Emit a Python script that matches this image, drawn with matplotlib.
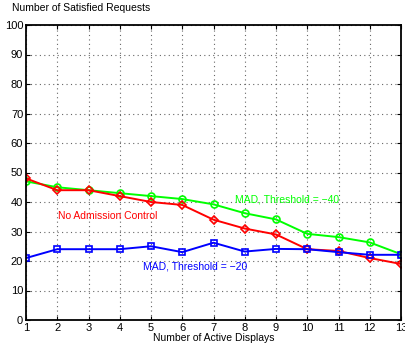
import matplotlib.pyplot as plt

plt.rcParams['font.family'] = ['Liberation Sans', 'DejaVu Sans']

displays = list(range(1, 14))
no_admission = [48, 44, 44, 42, 40, 39, 34, 31, 29, 24, 23.4, 21, 19]
mad_40 = [47, 45, 44, 43, 42, 41, 39.2, 36.2, 34.1, 29.2, 28.1, 26.3, 22.3]
mad_20 = [21, 24, 24, 24, 25, 23, 26.2, 23.2, 24.1, 24, 23, 22.1, 22.1]

fig = plt.figure(figsize=(4.06, 3.45), dpi=100)
ax = fig.add_axes([26 / 406, 1 - 320 / 345, 375 / 406, 295 / 345])

ax.plot(displays, mad_40, color='#00ff00', marker='o', ms=5, mfc='none', mew=1.2, lw=1.4)
ax.plot(displays, no_admission, color='#ff0000', marker='D', ms=4, mfc='none', mew=1.2, lw=1.4)
ax.plot(displays, mad_20, color='#0000ff', marker='s', ms=4.5, mfc='none', mew=1.2, lw=1.4)

ax.text(2.02, 35.3, 'No Admission Control', color='#ff0000', fontsize=7.5, va='center')
ax.text(7.69, 40.7, 'MAD, Threshold = \u221240', color='#00ff00', fontsize=7.5, va='center')
ax.text(4.74, 18.3, 'MAD, Threshold = \u221220', color='#0000ff', fontsize=7.5, va='center')

ax.set_xlim(1, 13)
ax.set_ylim(0, 100)
ax.set_xticks(displays)
ax.set_yticks(range(0, 101, 10))
ax.tick_params(direction='in', top=True, right=True, labelsize=8, length=3, pad=2)
ax.grid(True, linestyle=(0, (1, 3)), color='#666666', linewidth=0.8)
for s in ax.spines.values():
    s.set_linewidth(1.3)

ax.set_xlabel('Number of Active Displays', fontsize=7.5, labelpad=0)
fig.text(12 / 406, 1 - 8 / 345, 'Number of Satisfied Requests', fontsize=7.5, va='center')

fig.savefig('out.png', dpi=100)
